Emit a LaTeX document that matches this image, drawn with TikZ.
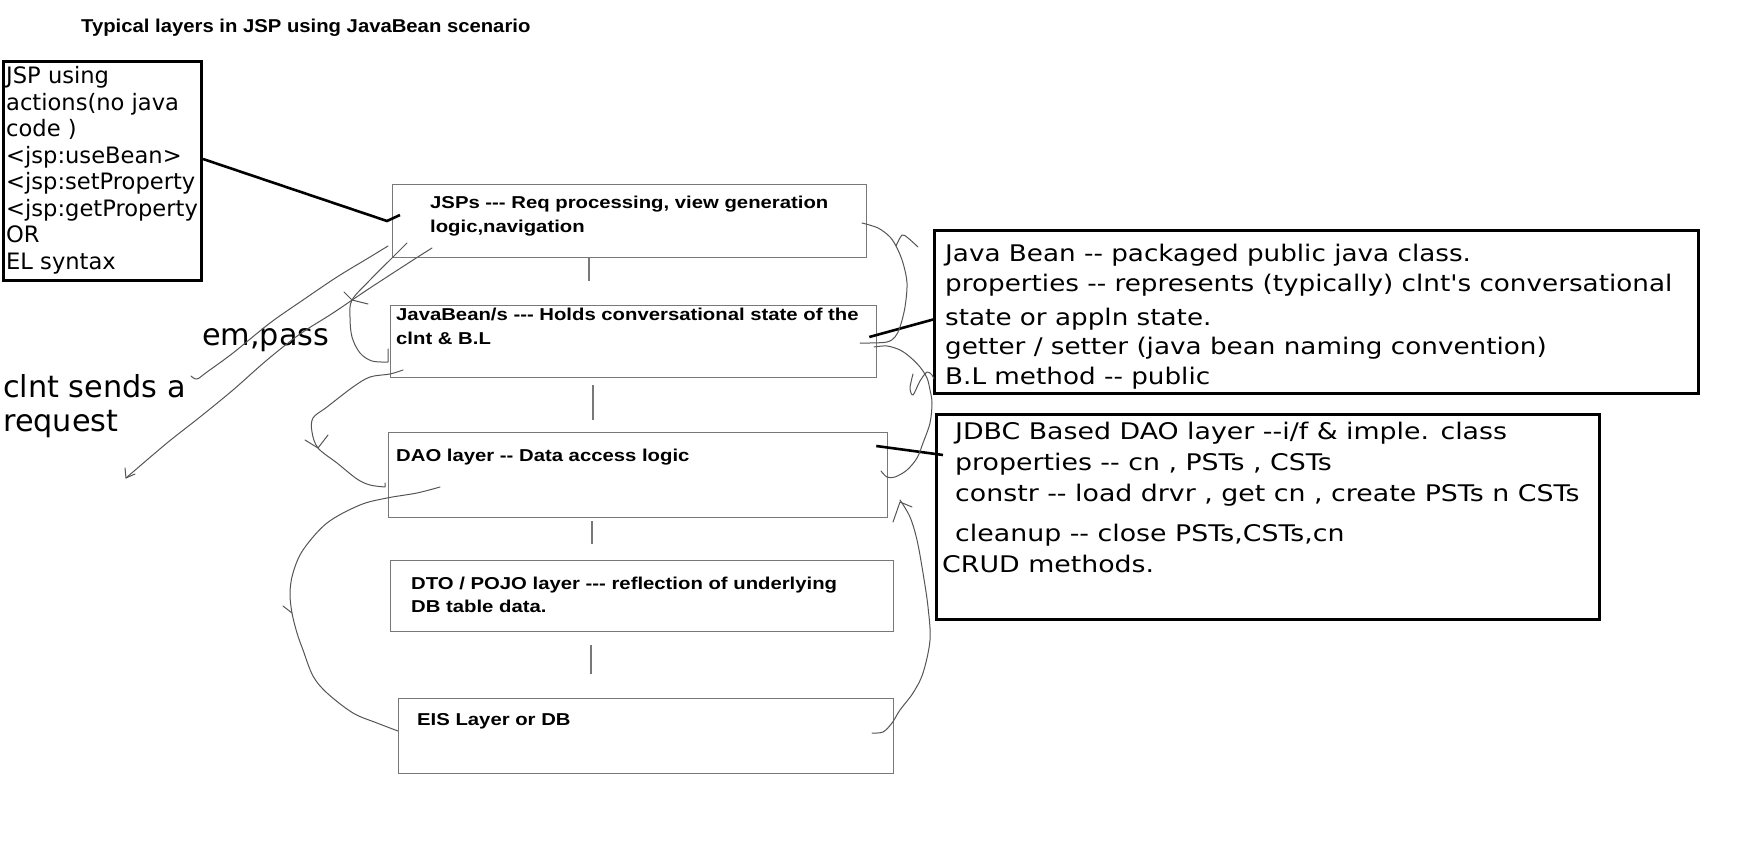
\documentclass[tikz,border=0pt]{standalone}
\usepackage{fontspec}
\setmainfont{DejaVu Sans}[Ligatures=TeXOff]
\newfontfamily\layerfont{Liberation Sans}[Ligatures=TeXOff,FakeStretch=1.18]
\newfontfamily\titlefont{Liberation Sans}[Ligatures=TeXOff,FakeStretch=1.09]
\newfontfamily\notefont{DejaVu Sans}[Ligatures=TeXOff,FakeStretch=1.145]
\newfontfamily\jdbcfont{DejaVu Sans}[Ligatures=TeXOff,FakeStretch=1.17]
\usetikzlibrary{calc}
\definecolor{layergrey}{RGB}{120,120,120}
\definecolor{handgrey}{RGB}{85,85,85}

\tikzset{
  layer/.style={draw=layergrey, line width=1.3pt, anchor=north west, inner sep=0pt},
  thickbox/.style={draw=black, line width=3pt, anchor=north west, inner sep=0pt},
  txt/.style={anchor=base west, inner sep=0pt, text=black},
  link/.style={draw=black, line width=2.6pt},
  tie/.style={draw=layergrey, line width=1.3pt},
  hand/.style={draw=handgrey, line width=1pt, line cap=round, line join=round},
}

\begin{document}
\begin{tikzpicture}[x=1pt,y=-1pt]
\useasboundingbox (0,0) rectangle (1757,842);

% title
\node[txt] (title) at (81,33)
  {\titlefont\bfseries\fontsize{18.6}{22}\selectfont Typical layers in JSP using JavaBean scenario};

% layer boxes
\node[layer, minimum width=474pt, minimum height=73pt] (jsp)  at (392,184) {};
\node[layer, minimum width=486pt, minimum height=72pt] (bean) at (390,305) {};
\node[layer, minimum width=499pt, minimum height=85pt] (dao)  at (388,432) {};
\node[layer, minimum width=503pt, minimum height=71pt] (dto)  at (390,560) {};
\node[layer, minimum width=495pt, minimum height=75pt] (eis)  at (398,698) {};

\node[txt] (jsptext) at (430,209) {\layerfont\bfseries\fontsize{17.2}{24}\selectfont
  \begin{tabular}[t]{@{}l@{}}JSPs --- Req processing, view generation\\ logic,navigation\end{tabular}};
\node[txt] (beantext) at (396,321) {\layerfont\bfseries\fontsize{17.2}{24}\selectfont
  \begin{tabular}[t]{@{}l@{}}JavaBean/s --- Holds conversational state of the\\ clnt \& B.L\end{tabular}};
\node[txt] (daotext) at (396,461) {\layerfont\bfseries\fontsize{17.2}{24}\selectfont
  DAO layer -- Data access logic};
\node[txt] (dtotext) at (411,589) {\layerfont\bfseries\fontsize{17.2}{23}\selectfont
  \begin{tabular}[t]{@{}l@{}}DTO / POJO layer --- reflection of underlying\\ DB table data.\end{tabular}};
\node[txt] (eistext) at (417,725) {\layerfont\bfseries\fontsize{17.2}{24}\selectfont
  EIS Layer or DB};

% vertical ties between layers
\draw[tie] ($(jsp.south west)+(197,0)$) -- ++(0,23);
\draw[tie] ($(bean.south west)+(203,7)$) -- ++(0,35);
\draw[tie] ($(dao.south west)+(204,3)$) -- ++(0,23);
\draw[tie] ($(dto.south west)+(201,13)$) -- ++(0,29);

% note boxes
\node[thickbox, minimum width=198pt, minimum height=219pt] (jspact) at (2,60) {};
\node[txt] (jspacttext) at (6,84) {\fontsize{22.6}{26.5}\selectfont
  \begin{tabular}[t]{@{}l@{}}JSP using\\actions(no java\\code )\\<jsp:useBean>\\<jsp:setProperty\\<jsp:getProperty\\OR\\EL syntax\end{tabular}};

\node[thickbox, minimum width=764pt, minimum height=163pt] (jbinfo) at (933,229) {};
\node[txt] (jbinfotext) at (945,262) {\notefont\fontsize{22.9}{29.5}\selectfont
  \begin{tabular}[t]{@{}l@{}}Java Bean -- packaged public java class.\\
  properties -- represents (typically) clnt's conversational\\[4.5pt]
  state or appln state.\\
  getter / setter (java bean naming convention)\\
  B.L method -- public\end{tabular}};

\node[thickbox, minimum width=663pt, minimum height=205pt] (jdbc) at (935,413) {};
\node[txt] (jdbctext) at (955,439) {\jdbcfont\fontsize{22.9}{31}\selectfont
  \begin{tabular}[t]{@{}l@{}}JDBC Based DAO layer --i/f \& imple. class\\
  properties -- cn , PSTs , CSTs\\[0pt]
  constr -- load drvr , get cn , create PSTs n CSTs\\[9pt]
  cleanup -- close PSTs,CSTs,cn\\
  \hspace*{-13pt}CRUD methods.\end{tabular}};

% thick pointers from the notes
\draw[link] ($(jspact.north east)+(0,99)$) -- ($(jsp.north west)+(-5,37)$) -- ($(jsp.north west)+(8,31)$);
\draw[link] ($(bean.north east)+(-8,32)$) -- ($(jbinfo.north west)+(2,90)$);
\draw[link] ($(dao.north east)+(-12,14)$) -- ($(jdbc.north west)+(8,42)$);

% large handwritten labels
\node[txt] (empass) at (202,346) {\fontsize{30.3}{35}\selectfont em,pass};
\node[txt] (clntreq) at (3,397) {\fontsize{30.3}{35}\selectfont
  \begin{tabular}[t]{@{}l@{}}clnt sends a\\ request\end{tabular}};

% freehand request flow, left side
\draw[hand] plot[smooth, tension=0.55] coordinates {(407,243) (393,257) (370,280) (352,300) (350,317) (352,337) (360,353) (372,361) (388,362)} -- (388,349);
\draw[hand] (344,292) -- (352,300) -- (368,304);
\draw[hand] plot[smooth, tension=0.55] coordinates {(432,248) (410,262) (367,290) (333,313) (300,334) (267,360) (233,390) (200,417) (167,443) (126,478)};
\draw[hand] (125,468) -- (126,478) -- (135,474);
\draw[hand] plot[smooth, tension=0.55] coordinates {(388,246) (370,257) (337,277) (303,300) (270,323) (233,353) (207,372) (197,379) (191,376)};
\draw[hand] plot[smooth, tension=0.55] coordinates {(403,370) (390,374) (370,377) (353,387) (327,407) (313,418) (312,432) (318,448) (337,463) (357,479) (370,485) (385,487)} -- (385,483);
\draw[hand] (305,440) -- (318,448) -- (328,435);
\draw[hand] plot[smooth, tension=0.55] coordinates {(440,487) (417,493) (387,498) (360,505) (327,523) (303,550) (293,573) (290,593) (292,613) (297,633) (303,650) (313,676) (327,693) (353,713) (377,723) (398,731)};
\draw[hand] (283,606) -- (292,613);

% freehand response flow, right side
\draw[hand] plot[smooth, tension=0.55] coordinates {(862,223) (878,228) (890,237) (897,248) (903,263) (907,283) (905,307) (900,327) (895,337) (887,342) (870,343) (860,343)};
\draw[hand] plot[smooth, tension=0.5] coordinates {(896,246) (902,235) (908,238) (918,247)};
\draw[hand] plot[smooth, tension=0.55] coordinates {(874,347) (887,346) (900,350) (910,357) (920,367) (927,378) (930,390) (932,403) (930,423) (923,443) (917,458) (907,470) (895,477) (887,477) (881,471)};
\draw[hand] plot[smooth, tension=0.5] coordinates {(913,374) (910,388) (913,395) (920,381) (927,372) (932,375) (934,379)};
\draw[hand] plot[smooth, tension=0.55] coordinates {(872,733) (883,732) (892,723) (900,710) (913,693) (923,673) (930,640) (928,607) (923,573) (917,540) (910,517) (900,500)};
\draw[hand] (893,522) -- (900,502) -- (912,507);
\end{tikzpicture}
\end{document}
